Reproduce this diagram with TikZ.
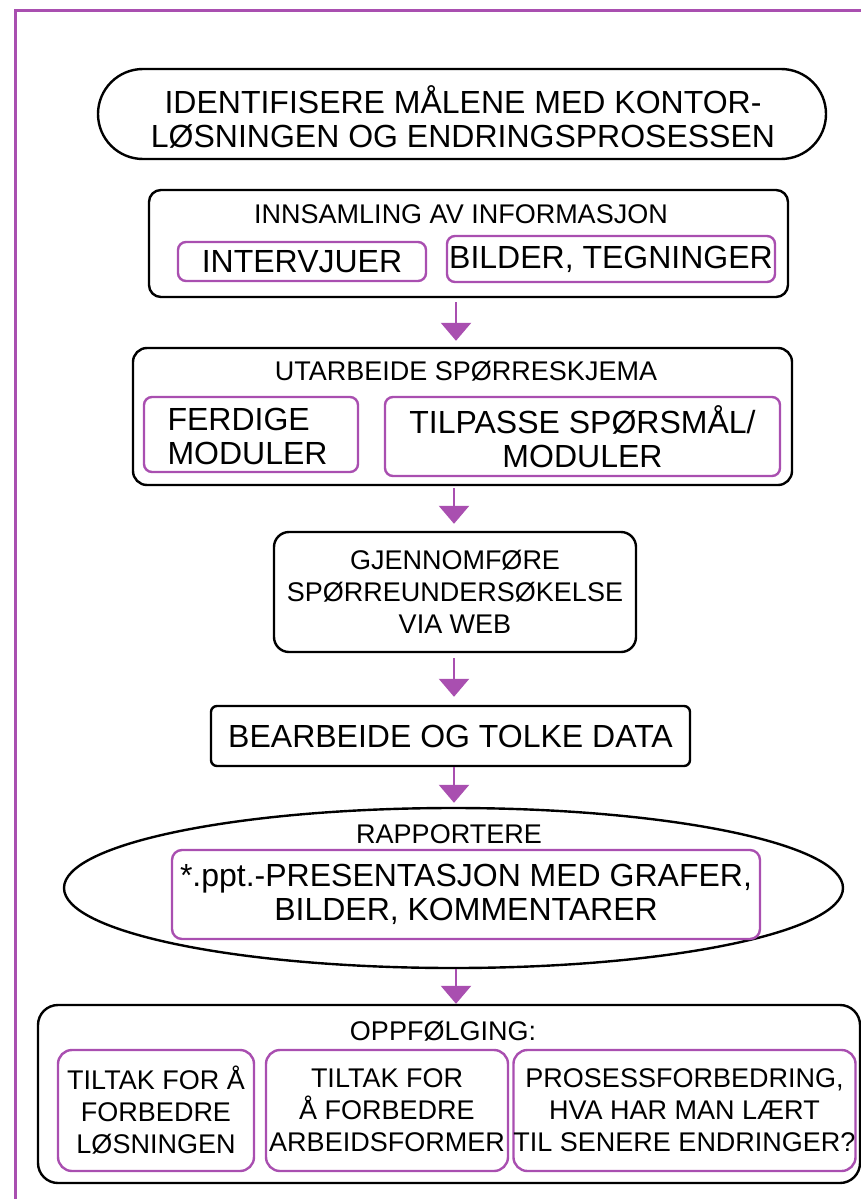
\documentclass[tikz,border=0pt]{standalone}
\usepackage{fontspec}
\setmainfont{Liberation Sans}
\usetikzlibrary{shapes.geometric,arrows.meta,calc}
\definecolor{lila}{RGB}{169,79,176}
\begin{document}
\begin{tikzpicture}[x=1pt,y=-1pt,
  blackbox/.style={draw=black,line width=2.4pt,rectangle,inner sep=0pt},
  purplebox/.style={draw=lila,line width=2.4pt,rectangle,rounded corners=8pt,inner sep=0pt},
  big/.style={font=\fontsize{32}{34}\selectfont},
  mid/.style={font=\fontsize{27}{32}\selectfont},
  conn/.style={draw=lila,line width=2.6pt,-{Triangle[width=30pt,length=18pt]}}
]
\useasboundingbox (0,0) rectangle (861,1199);
% frame
\draw[lila,line width=3pt] (15,1210) -- (15,11) -- (875,11);

% 1 stadium
\node[blackbox,rounded corners=45pt,minimum width=728pt,minimum height=90pt] (b1) at (462,114) {};
\node[big,align=center] (t1) at (463,117)
  {IDENTIFISERE MÅLENE MED KONTOR-\\LØSNINGEN OG ENDRINGSPROSESSEN};

% 2 innsamling
\node[blackbox,rounded corners=12pt,minimum width=639pt,minimum height=107pt] (b2) at (468.5,243.5) {};
\node[mid] (t2) at (461,214) {INNSAMLING AV INFORMASJON};
\node[purplebox,minimum width=248pt,minimum height=39pt,big] (b2a) at (302,261.5) {INTERVJUER};
\node[purplebox,minimum width=328pt,minimum height=46pt,big] (b2b) at (611,259) {BILDER, TEGNINGER};

% 3 utarbeide
\node[blackbox,rounded corners=14pt,minimum width=659pt,minimum height=137pt] (b3) at (462.5,416.5) {};
\node[mid] (t3) at (466,371) {UTARBEIDE SPØRRESKJEMA};
\node[purplebox,minimum width=214pt,minimum height=75pt] (b3a) at (251,434.5) {};
\node[big,align=left,anchor=west] (t3a) at (164,436) {FERDIGE\\MODULER};
\node[purplebox,minimum width=395pt,minimum height=79pt,big,align=center] (b3b) at (582.5,436.5)
  {TILPASSE SPØRSMÅL/\\MODULER};

% 4 gjennomføre
\node[blackbox,rounded corners=15pt,minimum width=362pt,minimum height=120pt,mid,align=center] (b4) at (455,592)
  {GJENNOMFØRE\\SPØRREUNDERSØKELSE\\VIA WEB};

% 5 bearbeide
\node[blackbox,rounded corners=6pt,minimum width=479pt,minimum height=60pt,big] (b5) at (450.5,736) {BEARBEIDE OG TOLKE DATA};

% 6 rapportere
\node[draw=black,line width=2.4pt,ellipse,inner sep=0pt,minimum width=779pt,minimum height=160pt] (b6) at (453.5,888) {};
\node[mid] (t6) at (449,834) {RAPPORTERE};
\node[purplebox,rounded corners=10pt,minimum width=588pt,minimum height=89pt,big,align=center] (b6a) at (466,894.5)
  {*.ppt.-PRESENTASJON MED GRAFER,\\BILDER, KOMMENTARER};

% 7 oppfølging
\node[blackbox,rounded corners=20pt,minimum width=822pt,minimum height=178pt] (b7) at (449,1094) {};
\node[mid] (t7) at (443,1031) {OPPFØLGING:};
\node[purplebox,rounded corners=14pt,minimum width=196pt,minimum height=121pt,mid,align=center] (b7a) at (156,1110.5)
  {TILTAK FOR Å\\FORBEDRE\\LØSNINGEN};
\node[purplebox,rounded corners=14pt,minimum width=242pt,minimum height=121pt,mid,align=center] (b7b) at (387,1110.5)
  {TILTAK FOR\\Å FORBEDRE\\ARBEIDSFORMER};
\node[purplebox,rounded corners=14pt,minimum width=337pt,minimum height=121pt,mid,align=center] (b7c) at (684.5,1110.5)
  {PROSESSFORBEDRING,\\HVA HAR MAN LÆRT\\TIL SENERE ENDRINGER?};

% connectors
\coordinate (x1) at (456,0);
\coordinate (x2) at (454,0);
\draw[conn] ($(b2.south -| x1)+(0,4)$) -- ($(b3.north -| x1)+(0,-6)$);
\draw[conn] ($(b3.south -| x2)+(0,2)$) -- ($(b4.north -| x2)+(0,-7)$);
\draw[conn] ($(b4.south -| x2)+(0,5)$) -- ($(b5.north -| x2)+(0,-8)$);
\draw[conn] ($(b5.south -| x2)+(0,0)$) -- ($(b6.north -| x2)+(0,-4)$);
\draw[conn] ($(b6.south -| x1)+(0,0)$) -- ($(b7.north -| x1)+(0,0)$);
\end{tikzpicture}
\end{document}
